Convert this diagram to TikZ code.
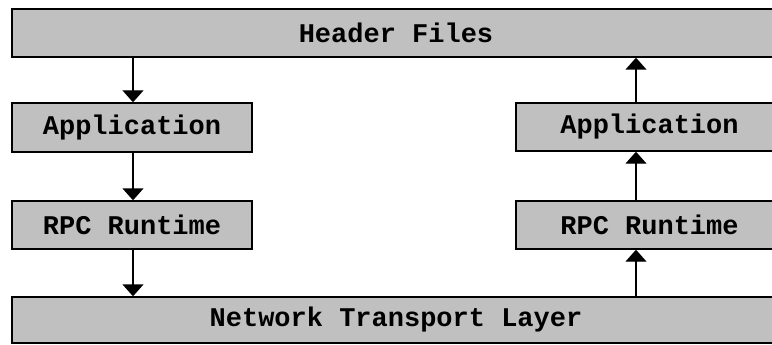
\documentclass[tikz,border=0pt]{standalone}
\usepackage{fontspec}
\setmonofont{Liberation Mono}
\usepackage{xcolor}
\usetikzlibrary{arrows.meta}
\definecolor{layer}{RGB}{192,192,192}

\tikzset{
  layerbox/.style={draw, fill=layer, line width=1.4pt, inner sep=0pt,
    font=\ttfamily\bfseries\fontsize{27}{30}\selectfont},
  flow/.style={line width=1.4pt, -{Triangle[width=21pt,length=12pt]}}
}

\begin{document}
\begin{tikzpicture}[x=1pt, y=-1pt]
    \useasboundingbox (0,0) rectangle (772,345);
    \clip (0,0) rectangle (772,345);
    % layers
    \node[layerbox, minimum width=768pt, minimum height=48pt] (hdr) at (396,33) {Header Files};
    \node[layerbox, minimum width=240pt, minimum height=49pt] (appL) at (132,127.5) {Application};
    \node[layerbox, minimum width=240pt, minimum height=48pt] (rpcL) at (132,225) {RPC Runtime};
    \node[layerbox, minimum width=267pt, minimum height=48pt] (appR) at (649.5,127) {Application};
    \node[layerbox, minimum width=267pt, minimum height=48pt] (rpcR) at (649.5,225) {RPC Runtime};
    \node[layerbox, minimum width=768pt, minimum height=46pt] (net) at (396,320) {Network Transport Layer};
    \coordinate (lx) at (133,0);
    \coordinate (rx) at (636,0);
    % client side goes down
    \draw[flow] (hdr.south -| lx) -- (appL.north -| lx);
    \draw[flow] (appL.south -| lx) -- (rpcL.north -| lx);
    \draw[flow] (rpcL.south -| lx) -- (net.north -| lx);
    % server side goes up
    \draw[flow] (net.north -| rx) -- (rpcR.south -| rx);
    \draw[flow] (rpcR.north -| rx) -- (appR.south -| rx);
    \draw[flow] (appR.north -| rx) -- (hdr.south -| rx);
\end{tikzpicture}
\end{document}
